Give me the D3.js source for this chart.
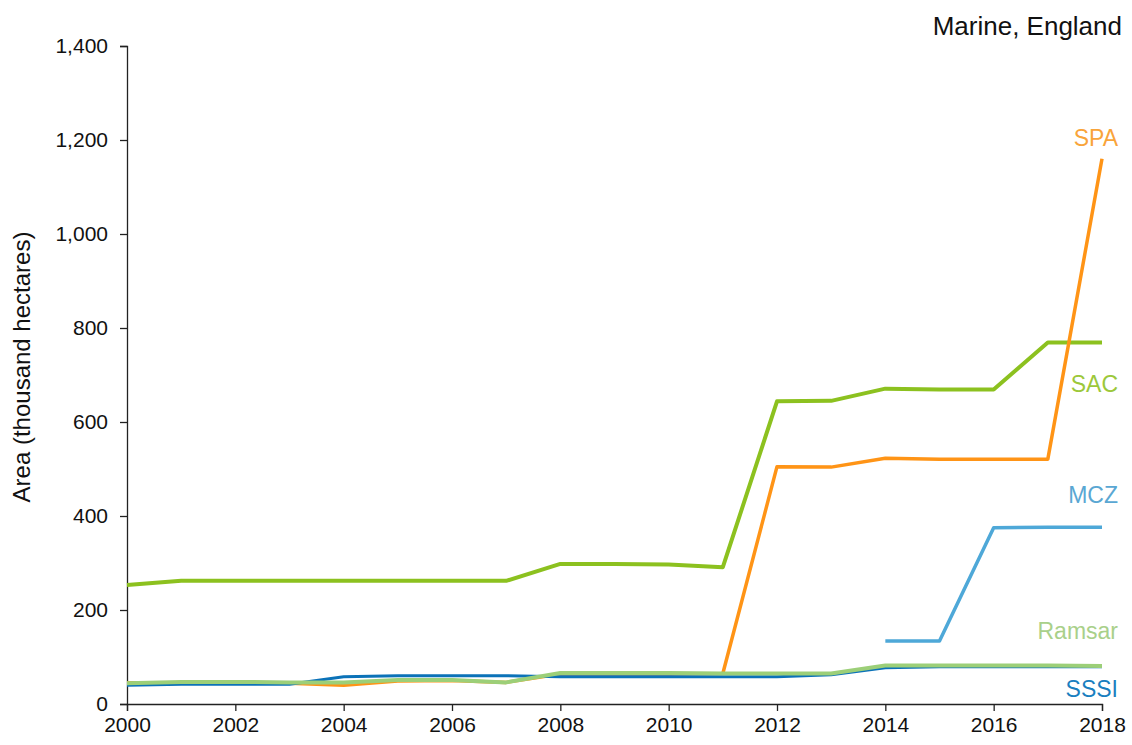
<!DOCTYPE html>
<html>
<head>
<meta charset="utf-8">
<script src="https://cdn.jsdelivr.net/npm/d3@7"></script>
<style>
  body { margin: 0; background: #fff; }
  svg { font-family: "Liberation Sans", Arial, sans-serif; }
</style>
</head>
<body>
<div id="chart"></div>
<script>
const years = d3.range(2000, 2019);
const sac = [253, 262, 262, 262, 262, 262, 262, 262, 298, 298, 297, 291, 644, 645, 671, 669, 669, 769, 769];
const spa = [45, 45, 45, 44, 40, 49, 50, 46, 64, 64, 64, 65, 505, 504, 523, 521, 521, 521, 1160];
const mcz = [null, null, null, null, null, null, null, null, null, null, null, null, null, null, 134, 134, 375, 376, 376];
const ramsar = [44, 47, 47, 46, 46, 51, 51, 46, 66, 66, 66, 65, 65, 65, 82, 82, 82, 82, 81];
const sssi = [40, 42, 42, 42, 58, 60, 60, 60, 58, 58, 58, 58, 58, 62, 77, 79, 79, 79, 79];
const yTicks = [0, 200, 400, 600, 800, 1000, 1200, 1400];
const xTicks = d3.range(2000, 2019, 2);

const series = [
  { name: "SAC", values: sac, color: "#8cc11f", label: "#9cc83a", width: 4, labelY: 392 },
  { name: "SPA", values: spa, color: "#ff9416", label: "#f9a43a", width: 3.5, labelY: 146 },
  { name: "SSSI", values: sssi, color: "#0b72b8", label: "#1a7fc0", width: 3, labelY: 697 },
  { name: "MCZ", values: mcz, color: "#4ea8d8", label: "#5aa7d3", width: 3.5, labelY: 503 },
  { name: "Ramsar", values: ramsar, color: "#9ccf78", label: "#a9d08a", width: 4, labelY: 639 }
];

const width = 1132, height = 745;
const margin = { left: 127, right: 30, top: 46, bottom: 41 };

const svg = d3.select("#chart").append("svg")
  .attr("width", width)
  .attr("height", height);

const x = d3.scaleLinear().domain([2000, 2018]).range([margin.left, width - margin.right]);
const y = d3.scaleLinear().domain([0, 1400]).range([height - margin.bottom, margin.top]);

// axes
const yAxis = svg.append("g")
  .attr("transform", `translate(${margin.left},0)`)
  .call(d3.axisLeft(y).tickValues(yTicks).tickSize(7).tickPadding(12).tickFormat(d3.format(",")));

const xAxis = svg.append("g")
  .attr("transform", `translate(0,${height - margin.bottom})`)
  .call(d3.axisBottom(x).tickValues(xTicks).tickSize(7).tickPadding(6).tickFormat(d3.format("d")));

[yAxis, xAxis].forEach(ax => {
  ax.selectAll("path, line").attr("stroke", "#222").attr("stroke-width", 1.3);
  ax.selectAll("text").attr("fill", "#111").style("font-size", "21px");
});

// lines
const line = d3.line()
  .defined(d => d[1] != null)
  .x(d => x(d[0]))
  .y(d => y(d[1]));

svg.append("g")
  .selectAll("path")
  .data(series)
  .join("path")
  .attr("fill", "none")
  .attr("stroke", d => d.color)
  .attr("stroke-width", d => d.width)
  .attr("stroke-linejoin", "round")
  .attr("d", d => line(years.map((yr, i) => [yr, d.values[i]])));

// series labels
svg.append("g")
  .selectAll("text")
  .data(series)
  .join("text")
  .attr("x", 1118)
  .attr("y", d => d.labelY)
  .attr("text-anchor", "end")
  .attr("fill", d => d.label)
  .style("font-size", "23px")
  .text(d => d.name);

// title
svg.append("text")
  .attr("x", 1122)
  .attr("y", 35)
  .attr("text-anchor", "end")
  .attr("fill", "#111")
  .style("font-size", "26px")
  .text("Marine, England");

// y axis title
svg.append("text")
  .attr("transform", "translate(30,367) rotate(-90)")
  .attr("text-anchor", "middle")
  .attr("fill", "#111")
  .style("font-size", "24px")
  .text("Area (thousand hectares)");
</script>
</body>
</html>
